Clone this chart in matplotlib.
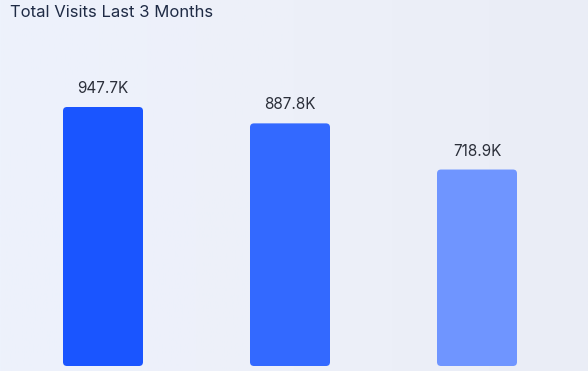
import numpy as np
import matplotlib.pyplot as plt
from matplotlib.patches import FancyBboxPatch
from matplotlib.colors import LinearSegmentedColormap

plt.rcParams['font.family'] = ['Inter', 'DejaVu Sans']

months = ["Month 1", "Month 2", "Month 3"]
visits_k = [947.7, 887.8, 718.9]
labels = ["947.7K", "887.8K", "718.9K"]
bar_colors = ["#1a55ff", "#3369ff", "#6f95ff"]

W, H = 588, 371
fig = plt.figure(figsize=(W / 100, H / 100), dpi=100)

# soft background gradient
bg = fig.add_axes([0, 0, 1, 1], zorder=-1)
cmap = LinearSegmentedColormap.from_list("bg", ["#edf2fc", "#edf0f9", "#eaedf6"])
grad = np.linspace(0, 1, 256).reshape(1, -1)
bg.imshow(grad, aspect="auto", cmap=cmap, extent=[0, 1, 0, 1])
bg.axis("off")

ax = fig.add_axes([0, 5 / H, 1, 366 / H])
ax.patch.set_alpha(0)
x = np.arange(len(months))
px_per_unit = 187
ax.set_xlim(-103 / px_per_unit, (W - 103) / px_per_unit)
px_per_k = 259 / 947.7
ax.set_ylim(0, 366 / px_per_k)

bars = ax.bar(x, visits_k, width=80 / px_per_unit, color=bar_colors)
rad_x = 4 / px_per_unit
aspect = (4 / px_per_k) / rad_x
for b, c in zip(bars, bar_colors):
    b.set_visible(False)
    p = FancyBboxPatch((b.get_x(), b.get_y()), b.get_width(), b.get_height(),
                       boxstyle=f"round,pad=0,rounding_size={rad_x}",
                       mutation_aspect=aspect, facecolor=c, edgecolor="none")
    ax.add_patch(p)

for xi, v, lab in zip(x, visits_k, labels):
    ax.annotate(lab, (xi, v), xytext=(0, 10), textcoords="offset points",
                ha="center", va="baseline", fontsize=11, color="#2b2f3a")

ax.axis("off")

fig.text(10 / W, 1 - 17 / H, "Total Visits Last 3 Months", fontsize=12,
         color="#1f2b45", va="baseline", ha="left")

fig.savefig("out.png", dpi=100)
